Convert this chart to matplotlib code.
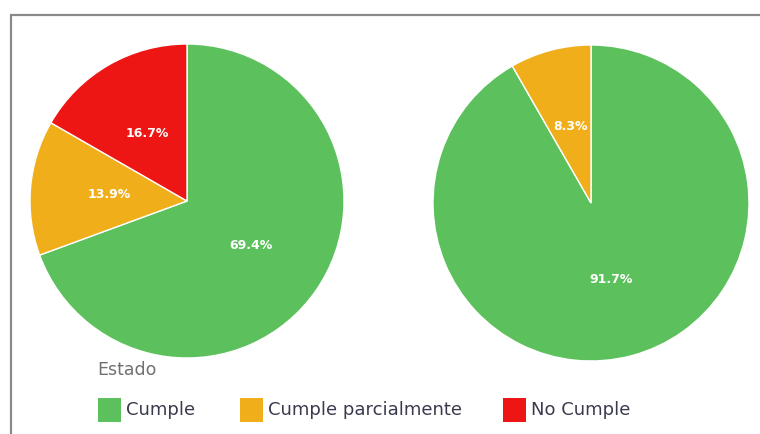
import matplotlib
matplotlib.use("Agg")
import matplotlib.pyplot as plt
from matplotlib.patches import Rectangle

categories = ["Cumple", "Cumple parcialmente", "No Cumple"]
colors = ["#5CC15C", "#F0AF1A", "#EE1515"]
left_values = [69.4, 13.9, 16.7]
right_values = [91.7, 8.3]
legend_title = "Estado"

W, H = 760, 434
fig = plt.figure(figsize=(W / 100, H / 100), dpi=100)

# border
fig.patches.append(Rectangle((11 / W, -0.1), 1.0, (H - 15) / H + 0.1, transform=fig.transFigure,
                             fill=False, edgecolor="#8a8a8a", linewidth=1.6))

def add_pie(cx, cy, r, values, cols):
    ax = fig.add_axes([(cx - r) / W, (H - cy - r) / H, 2 * r / W, 2 * r / H])
    ax.pie(values, colors=cols, startangle=90, counterclock=False,
           autopct=lambda p: f"{p:.1f}%", pctdistance=0.5,
           wedgeprops=dict(edgecolor="white", linewidth=1.0),
           textprops=dict(color="white", fontsize=9, fontweight="bold"),
           radius=1.0)
    ax.set_xlim(-1, 1)
    ax.set_ylim(-1, 1)
    ax.set_aspect("equal")
    ax.axis("off")
    return ax

add_pie(187, 201, 157, left_values, colors[:3])
add_pie(591, 203, 158, right_values, colors[:2])

# legend (drawn manually for exact placement)
fig.text(97 / W, 1 - 370 / H, legend_title, fontsize=12.5, color="#707070",
         ha="left", va="center")
item_x = [98, 240, 503]
row_y = 410
for x, lab, c in zip(item_x, categories, colors):
    fig.patches.append(Rectangle((x / W, 1 - (row_y + 12) / H), 23 / W, 24 / H,
                                 transform=fig.transFigure, facecolor=c, edgecolor="none"))
    fig.text((x + 28) / W, 1 - row_y / H, lab, fontsize=13, color="#3a3a4e",
             ha="left", va="center")

fig.savefig("out.png", dpi=100)
